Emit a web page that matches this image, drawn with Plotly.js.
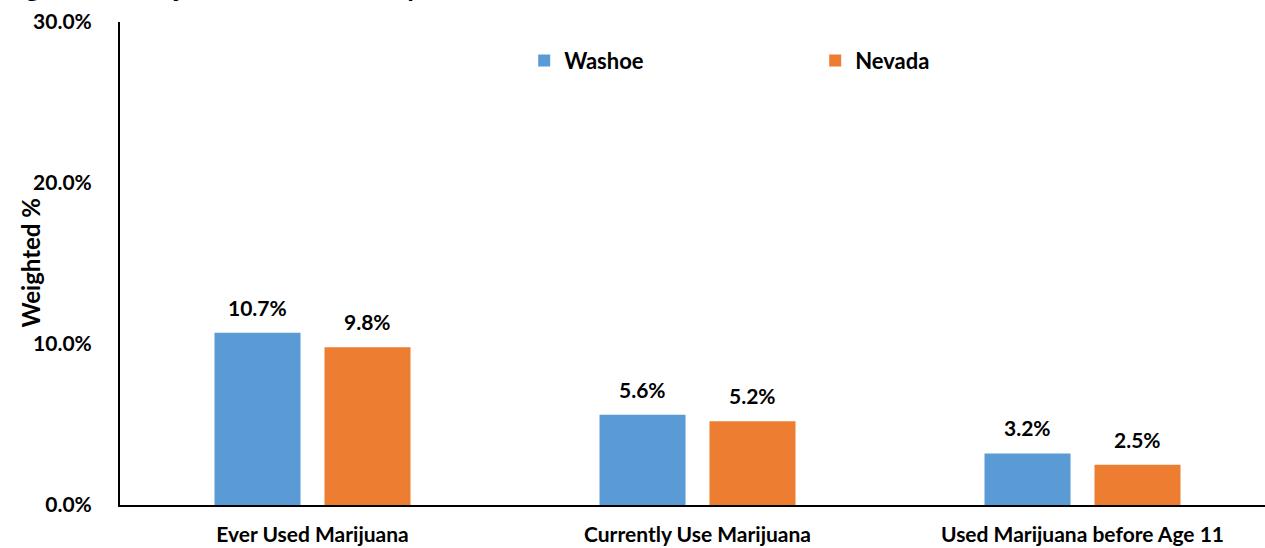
<!DOCTYPE html>
<html>
<head>
<meta charset="utf-8">
<script src="https://cdn.plot.ly/plotly-3.0.1.min.js"></script>
<style>html,body{margin:0;padding:0;background:#fff;}#chart{width:1265px;height:548px;}</style>
</head>
<body>
<div id="chart"></div>
<script>
const categories = ["Ever Used Marijuana", "Currently Use Marijuana", "Used Marijuana before Age 11"];
const washoe = [10.7, 5.6, 3.2];
const nevada = [9.8, 5.2, 2.5];
const seriesNames = ["Washoe", "Nevada"];
const yTicks = [0, 10, 20, 30];
const yTickLabels = ["0.0%", "10.0%", "20.0%", "30.0%"];
const yTitle = "Weighted %";
const titleText = "Figure 6. Marijuana Use Summary, Middle School Students, 2019 and 2021";

const FONT = "Lato, 'Open Sans', sans-serif";
const colors = ["#5B9BD5", "#ED7D31"];

const traces = [washoe, nevada].map((vals, i) => ({
  type: "bar",
  name: seriesNames[i],
  x: categories,
  y: vals,
  marker: {color: colors[i]},
  hoverinfo: "none"
}));

const annotations = [];
[washoe, nevada].forEach((vals, i) => {
  vals.forEach((v, j) => {
    annotations.push({
      x: categories[j], y: v, xref: "x", yref: "y",
      xshift: i === 0 ? -55 : 55, yshift: 11,
      yanchor: "bottom", showarrow: false,
      text: "<b>" + v.toFixed(1) + "%</b>",
      font: {family: FONT, size: 21, color: "#000"}
    });
  });
});
annotations.push({
  xref: "paper", yref: "paper", x: -90/1145, y: 0.5,
  xanchor: "center", yanchor: "middle", textangle: -90, showarrow: false,
  text: "<b>" + yTitle + "</b>",
  font: {family: FONT, size: 24, color: "#000"}
});
annotations.push({
  xref: "paper", yref: "paper", x: -120/1145, y: 1.0373,
  xanchor: "left", yanchor: "bottom", showarrow: false,
  text: "<b>" + titleText + "</b>",
  font: {family: FONT, size: 28, color: "#000"}
});

const layout = {
  width: 1265, height: 548,
  margin: {l: 120, r: 0, t: 22, b: 43},
  paper_bgcolor: "#fff", plot_bgcolor: "#fff",
  barmode: "group", bargap: 0.4286, bargroupgap: 0.218,
  showlegend: true,
  legend: {
    orientation: "h", x: 0.353, y: 0.92, xanchor: "left", yanchor: "middle",
    entrywidth: 246, entrywidthmode: "pixels",
    font: {family: FONT, size: 22, color: "#000", weight: "bold"},
    bgcolor: "rgba(0,0,0,0)"
  },
  xaxis: {
    type: "category", range: [-0.5, 2.474],
    showline: true, linecolor: "#000", linewidth: 2,
    showgrid: false, zeroline: false, ticks: "",
    ticklabelstandoff: 10,
    tickfont: {family: FONT, size: 21, color: "#000", weight: "bold"},
    fixedrange: true
  },
  yaxis: {
    range: [0, 30],
    tickvals: yTicks, ticktext: yTickLabels,
    showline: true, linecolor: "#000", linewidth: 2,
    showgrid: false, zeroline: false, ticks: "",
    ticklabelstandoff: 22,
    tickfont: {family: FONT, size: 21, color: "#000", weight: "bold"},
    fixedrange: true
  },
  annotations: annotations
};

Plotly.newPlot("chart", traces, layout, {staticPlot: true, displayModeBar: false});
</script>
</body>
</html>
